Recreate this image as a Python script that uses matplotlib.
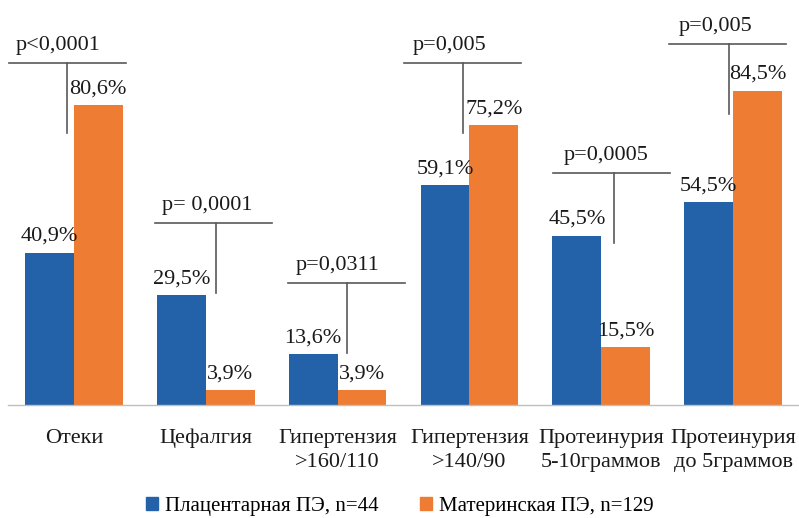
import matplotlib
matplotlib.use("Agg")
import matplotlib.pyplot as plt
from matplotlib.patches import Rectangle
import numpy as np

plt.rcParams['font.family'] = ['Liberation Serif', 'DejaVu Serif']

categories = ["Отеки", "Цефалгия", "Гипертензия\n>160/110", "Гипертензия\n>140/90",
              "Протеинурия\n5-10граммов", "Протеинурия\nдо 5граммов"]
placental = [40.9, 29.5, 13.6, 59.1, 45.5, 54.5]
maternal = [80.6, 3.9, 3.9, 75.2, 15.5, 84.5]
p_labels = ["p<0,0001", "p= 0,0001", "p=0,0311", "p=0,005", "p=0,0005", "p=0,005"]
series_names = ["Плацентарная ПЭ, n=44", "Материнская ПЭ, n=129"]

# layout for the p-value brackets (not data)
p_line_y = [91.9, 48.9, 32.8, 91.9, 62.4, 97.0]
p_line_cx = [-0.05, 0.06, 0.07, -0.05, 0.08, -0.04]
p_vert_dx = [-0.05, 0.08, 0.07, -0.05, 0.10, -0.03]
p_text_dx = [-0.12, 0.01, 0.0, -0.15, 0.04, -0.13]

blue = "#2361a8"
orange = "#ee7d33"

W, H = 799, 518
fig = plt.figure(figsize=(W / 100, H / 100), dpi=100)
ax = fig.add_axes([8 / W, 113 / H, 791 / W, 405 / H])
x = np.arange(len(categories))
bw = 0.37
ax.bar(x - bw / 2, placental, bw, color=blue)
ax.bar(x + bw / 2, maternal, bw, color=orange)
ax.set_xlim(-0.5, len(categories) - 0.5)
ax.set_ylim(0, 108.9)

fs = 16
for i in range(len(categories)):
    ax.annotate(f"{placental[i]:.1f}%".replace('.', ','), (x[i] - bw / 2, placental[i]),
                xytext=(0, 5), textcoords='offset points', ha='center', va='bottom',
                fontsize=fs, color='#1a1a1a')
    ax.annotate(f"{maternal[i]:.1f}%".replace('.', ','), (x[i] + bw / 2, maternal[i]),
                xytext=(0, 5), textcoords='offset points', ha='center', va='bottom',
                fontsize=fs, color='#1a1a1a')
    cx = x[i] + p_line_cx[i]
    y = p_line_y[i]
    ax.plot([cx - 0.445, cx + 0.445], [y, y], color='#595959', lw=1.2, clip_on=False)
    vx = x[i] + p_vert_dx[i]
    ax.plot([vx, vx], [y, y - 18.8], color='#595959', lw=1.2, clip_on=False)
    ax.text(x[i] + p_text_dx[i], y + 2.2, p_labels[i], ha='center', va='bottom',
            fontsize=fs, color='#1a1a1a')

for s in ['top', 'right', 'left']:
    ax.spines[s].set_visible(False)
ax.spines['bottom'].set_color('#bfbfbf')
ax.spines['bottom'].set_linewidth(1.0)
ax.set_yticks([])
ax.set_xticks(x)
ax.set_xticklabels(categories, fontsize=fs, color='#1a1a1a', linespacing=1.35)
ax.tick_params(axis='x', length=0, pad=17)

handles = [Rectangle((0, 0), 1, 1, color=blue), Rectangle((0, 0), 1, 1, color=orange)]
fig.legend(handles, series_names, loc='center', bbox_to_anchor=(0.5, 12 / H), ncol=2,
           frameon=False, fontsize=15, handlelength=0.6, handleheight=0.6,
           handletextpad=0.3, columnspacing=2.0)

fig.savefig("out.png", dpi=100)
